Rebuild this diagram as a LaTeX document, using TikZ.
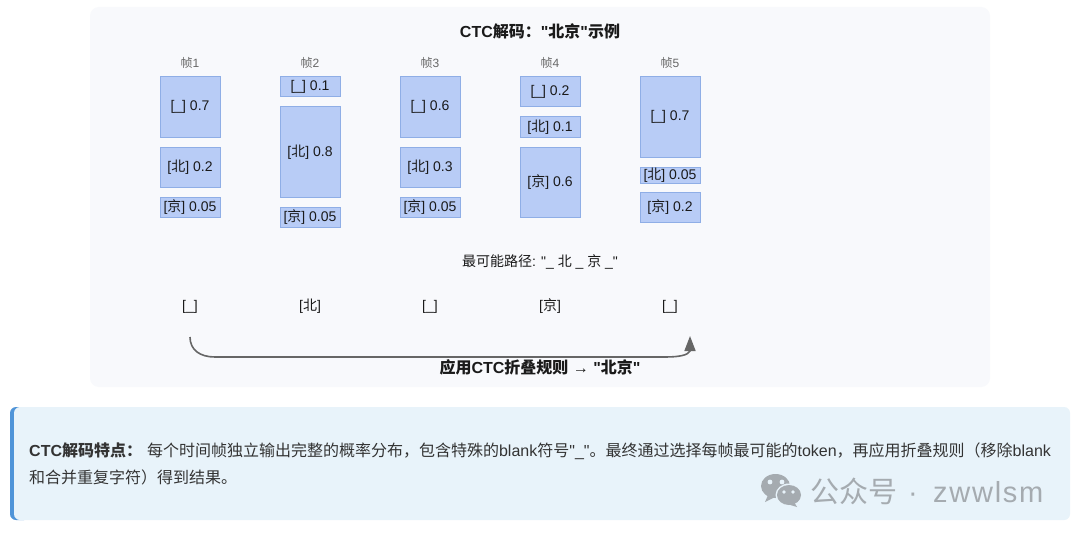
\documentclass[tikz,border=0pt]{standalone}
\usepackage{fontspec}
\setmainfont{Liberation Sans}[Ligatures=TeXOff]
\newfontfamily\cjk{Noto Sans CJK SC}
\newfontfamily\wmlatin{Liberation Sans}[LetterSpace=6]
\newcommand{\zh}[1]{{\cjk #1}}
\usetikzlibrary{arrows.meta}
\definecolor{panelbg}{HTML}{F8F9FC}
\definecolor{barfill}{HTML}{B8CCF6}
\definecolor{barline}{HTML}{8FAEE6}
\definecolor{notebg}{HTML}{E8F3FA}
\definecolor{noteedge}{HTML}{4F94D8}
\definecolor{ink}{HTML}{1A1A1A}
\definecolor{notetext}{HTML}{333333}
\definecolor{arc}{HTML}{666666}
\definecolor{wm}{HTML}{A5ABB0}
\tikzset{
  x=1pt,y=-1pt,
  bar/.style={draw=barline,line width=1pt,fill=barfill,minimum width=60pt,inner sep=0pt,outer sep=0pt,anchor=north,text=ink,font=\fontsize{14}{16}\selectfont},
  framelabel/.style={text=arc,font=\fontsize{12}{14}\selectfont,inner sep=0pt},
  pathlabel/.style={text=ink,font=\fontsize{14}{16}\selectfont,inner sep=0pt},
  titlelabel/.style={text=ink,font=\fontsize{16}{18}\selectfont\bfseries,inner sep=0pt},
  notelabel/.style={text=notetext,font=\fontsize{16}{26}\selectfont,inner sep=0pt,anchor=west},
  wmlabel/.style={text=wm,inner sep=0pt,anchor=base west,font=\fontsize{29}{32}\selectfont}
}
\begin{document}
\begin{tikzpicture}
\useasboundingbox (0,0) rectangle (1080,535);
\fill[white] (0,0) rectangle (1080,535);
% panel
\fill[panelbg,rounded corners=9pt] (90,7) rectangle (990,387);
\node[titlelabel] (title) at (540,31) {CTC\zh{解码：}"\zh{北京}"\zh{示例}};
% frame labels
\node[framelabel] (f1) at (190,63) {\zh{帧}1};
\node[framelabel] (f2) at (310,63) {\zh{帧}2};
\node[framelabel] (f3) at (430,63) {\zh{帧}3};
\node[framelabel] (f4) at (550,63) {\zh{帧}4};
\node[framelabel] (f5) at (670,63) {\zh{帧}5};
% frame 1
\node[bar,minimum height=60pt] (a1) at (190,77) {[\_] 0.7};
\node[bar,minimum height=40pt] (a2) at (190,147) {[\zh{北}] 0.2};
\node[bar,minimum height=20pt] (a3) at (190,197) {[\zh{京}] 0.05};
% frame 2
\node[bar,minimum height=20pt] (b1) at (310,77) {[\_] 0.1};
\node[bar,minimum height=90pt] (b2) at (310,107) {[\zh{北}] 0.8};
\node[bar,minimum height=20pt] (b3) at (310,207) {[\zh{京}] 0.05};
% frame 3
\node[bar,minimum height=60pt] (c1) at (430,77) {[\_] 0.6};
\node[bar,minimum height=40pt] (c2) at (430,147) {[\zh{北}] 0.3};
\node[bar,minimum height=20pt] (c3) at (430,197) {[\zh{京}] 0.05};
% frame 4
\node[bar,minimum height=30pt] (d1) at (550,77) {[\_] 0.2};
\node[bar,minimum height=20pt] (d2) at (550,117) {[\zh{北}] 0.1};
\node[bar,minimum height=70pt] (d3) at (550,147) {[\zh{京}] 0.6};
% frame 5
\node[bar,minimum height=80pt] (e1) at (670,77) {[\_] 0.7};
\node[bar,minimum height=16pt] (e2) at (670,167) {[\zh{北}] 0.05};
\node[bar,minimum height=30pt] (e3) at (670,192) {[\zh{京}] 0.2};
% path
\node[pathlabel] (best) at (540,262) {\zh{最可能路径}: "\_ \zh{北} \_ \zh{京} \_"};
\node[pathlabel] (p1) at (190,307) {[\_]};
\node[pathlabel] (p2) at (310,306.5) {[\zh{北}]};
\node[pathlabel] (p3) at (430,307) {[\_]};
\node[pathlabel] (p4) at (550,306.5) {[\zh{京}]};
\node[pathlabel] (p5) at (670,307) {[\_]};
\coordinate (arcstart) at (190,337);
\coordinate (arcend) at (690,336);
\draw[arc,line width=1.6pt,-{Triangle[length=15pt,width=11pt]}]
  (arcstart) .. controls (190,350) and (200,357) .. (215,357) -- (665,357)
  .. controls (680,357) and (688,355) .. (690,351) -- (arcend);
\node[titlelabel] (rule) at (540,367) {\zh{应用}CTC\zh{折叠规则} → "\zh{北京}"};
% note
\fill[noteedge,rounded corners=6pt] (10,407) rectangle (30,520);
\fill[notebg,rounded corners=6pt] (14,407) rectangle (1070,520);
\node[notelabel] (n1) at (29,451) {\textbf{CTC\zh{解码特点：}}\hspace{5pt}\zh{每个时间帧独立输出完整的概率分布，包含特殊的}blank\zh{符号}"\_"\zh{。最终通过选择每帧最可能的}token\zh{，再应用折叠规则（移除}blank};
\node[notelabel] (n2) at (29,477) {\zh{和合并重复字符）得到结果。}};
% watermark
\fill[wm] (775.5,486) ellipse (14.5pt and 12pt);
\fill[wm] (768,495) -- (765,502) -- (775,497) -- cycle;
\fill[notebg] (789,495) ellipse (13.5pt and 11.5pt);
\fill[wm] (789,495) ellipse (12pt and 10pt);
\fill[wm] (794,502) -- (797,507) -- (787,504) -- cycle;
\fill[notebg] (770,482) circle (2.4pt) (782,482) circle (2.4pt);
\fill[notebg] (784,492) circle (1.9pt) (793,492) circle (1.9pt);
\node[wmlabel] (wmzh) at (810,502) {\zh{公众号}};
\node[wmlabel] (wmdot) at (908,502) {·};
\node[wmlabel] (wmen) at (933,502) {\wmlatin zwwlsm};
\end{tikzpicture}
\end{document}
